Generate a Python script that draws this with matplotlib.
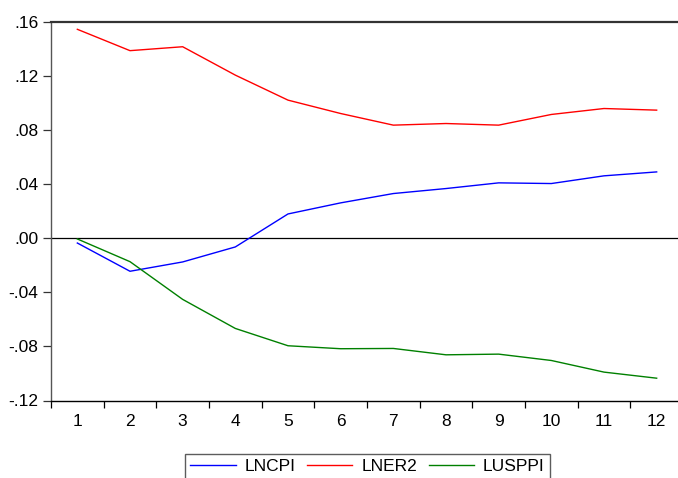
import matplotlib
matplotlib.use("Agg")
import matplotlib.pyplot as plt
import numpy as np

plt.rcParams['font.family'] = ['Liberation Sans', 'DejaVu Sans']

periods = list(range(1, 13))
lncpi = [-0.0035, -0.0244, -0.0175, -0.0064, 0.0180, 0.0262, 0.0331, 0.0368, 0.0410, 0.0405, 0.0462, 0.0491]
lner2 = [0.1546, 0.1388, 0.1417, 0.1207, 0.1022, 0.0923, 0.0837, 0.0849, 0.0837, 0.0916, 0.0960, 0.0948]
lusppi = [-0.0005, -0.0173, -0.0452, -0.0667, -0.0795, -0.0817, -0.0815, -0.0862, -0.0857, -0.0904, -0.0990, -0.1035]
yticks = [-0.12, -0.08, -0.04, 0.00, 0.04, 0.08, 0.12, 0.16]
ytick_labels = ["-.12", "-.08", "-.04", ".00", ".04", ".08", ".12", ".16"]

W, H = 678, 478
fig = plt.figure(figsize=(W / 100, H / 100), dpi=100)
left, right, top, bottom = 51, 683, 22, 400.5
ax = fig.add_axes([left / W, 1 - bottom / H, (right - left) / W, (bottom - top) / H])

ax.plot(periods, lncpi, color='#0000ff', lw=1.0, label='LNCPI')
ax.plot(periods, lner2, color='#ff0000', lw=1.0, label='LNER2')
ax.plot(periods, lusppi, color='#008000', lw=1.0, label='LUSPPI')
ax.axhline(0, color='black', lw=0.9, zorder=1)

ax.set_xlim(0.5, 12.5)
ax.set_ylim(-0.12, 0.16)
ax.set_yticks(yticks)
ax.set_yticklabels(ytick_labels)
ax.set_xticks(periods)
ax.set_xticklabels([str(p) for p in periods])
ax.set_xticks(np.arange(0.5, 12.6, 1.0), minor=True)
ax.tick_params(axis='x', which='major', length=0, pad=10, labelsize=12.5)
ax.tick_params(axis='x', which='minor', length=5, width=0.9, direction='out', color='black')
ax.tick_params(axis='y', which='major', length=5.5, width=0.9, direction='out', labelsize=12.5, pad=3.5, color='#333333')

ax.spines['right'].set_visible(False)
ax.spines['top'].set_color('#333333')
ax.spines['top'].set_linewidth(1.6)
ax.spines['left'].set_color('#555555')
ax.spines['left'].set_linewidth(1.0)
ax.spines['bottom'].set_color('black')
ax.spines['bottom'].set_linewidth(1.0)

leg = fig.legend(loc='upper center', bbox_to_anchor=(367.5 / W, 1 - 454 / H), ncol=3,
                 frameon=True, fancybox=False, edgecolor='#333333', fontsize=12.5,
                 handlelength=2.6, columnspacing=0.7, handletextpad=0.5,
                 borderpad=0.3, borderaxespad=0)
leg.get_frame().set_linewidth(1.0)

fig.savefig('out.png', dpi=100)
